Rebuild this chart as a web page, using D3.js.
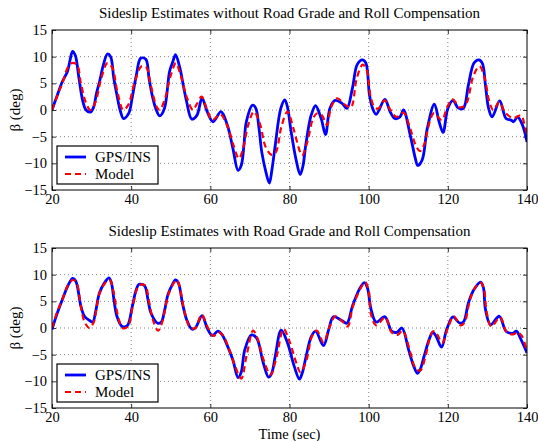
<!DOCTYPE html>
<html>
<head>
<meta charset="utf-8">
<title>Sideslip Estimates</title>
<style>
  body { margin: 0; background: #fff; }
  text { font-family: "Liberation Serif", "Times New Roman", serif; fill: #000; }
</style>
</head>
<body>
<script src="https://cdn.jsdelivr.net/npm/d3@7"></script>
<script>

// ---- data ----
var xTicks = [20, 40, 60, 80, 100, 120, 140];
var yTicks = [-15, -10, -5, 0, 5, 10, 15];
var seriesNames = ["GPS/INS", "Model"];
var titles = ["Sideslip Estimates without Road Grade and Roll Compensation",
              "Sideslip Estimates with Road Grade and Roll Compensation"];

// top panel, GPS/INS
var topGpsT = [20,21.2,22.6,23.9,24.6,25.2,25.9,26.8,27.8,28.6,29.7,30.5,31.2,32,33,34,34.8,35.6,36.4,37.2,38.1,39.4,40.3,41.3,42.4,43.7,44.5,45.3,46.2,47.2,48.4,49.7,50.5,51.2,52.3,53.2,54,55.3,56.6,57.9,59.2,60.7,62.7,64.4,65.7,67,67.8,68.5,69.1,70.7,71.5,72.3,73,74,74.9,75.6,76.4,77.8,78.8,79.5,80.3,81.6,82.7,83.4,84.1,85.5,86.6,88,89.1,90.2,91.5,93.2,94.5,95.9,97.1,98.4,99.3,100.2,101,101.9,104.1,105.4,106.6,107.9,108.8,110.5,111.8,112.4,113.5,114.8,116.6,117.8,118.8,120,121.3,122.6,123.9,125.2,126.6,127.8,128.7,129.5,130.3,131.2,133.1,134.7,136,136.6,137.6,138.5,139.3,140];
var topGpsV = [0,2.5,5.3,7.2,9.5,11,10.2,6,1.6,0,-0.4,0.5,3,5.3,8.5,10.5,10,6,2.8,0,-1.6,-0.6,2.5,6.5,9.7,9.5,6,2.8,0.3,-1.1,0.3,7.2,9,10.4,7.9,4.5,1.6,-1.7,-1,2.2,-0.3,-2.2,-0.3,-3.1,-7.2,-11.3,-10.4,-6.5,-2.2,0.9,0.3,-3.5,-7.9,-11.5,-13.7,-11,-6.6,0.3,1.9,0.5,-3.5,-9.1,-12.1,-10.5,-6.6,-0.9,0.8,-1.6,-4.6,0.3,1.8,1.3,0.3,4.1,8.5,9.4,8.8,2.8,0.3,-0.8,2,-0.3,-1.6,-1.3,0,-4.7,-9.1,-10.4,-9.4,-3.5,1.1,-2.2,-4.2,0.3,1.8,0.4,0.3,4.7,8.8,9.4,8.8,4.7,0.3,-1.3,1.7,-1.6,-1.9,-2.2,-1.3,-2.2,-3.8,-6];

// top panel, Model
var topModT = [20,21.5,22.6,24,25,26.3,27.3,28.5,29.7,31,32.3,34,35.2,36.5,38,39.3,40.8,42.6,43.8,45,46.5,47.2,48.5,50,51.3,52.5,54,55.6,56.5,57.8,59.2,60.5,62.5,64.3,65.8,67.2,68.2,69.5,71,72.5,74,75.5,76.5,78,79.5,81,82.5,83.2,84.5,86,87,88.2,89.5,90.5,92,94,95.5,97,98.5,99.5,100.5,101.5,102.5,104,105.5,107,108.8,110.5,112,113,114,115.5,116.5,118.5,119.8,121.2,123,124.5,126.5,128,129.3,130.5,131.5,133,134.5,136.5,138.5,139.3,140];
var topModV = [0,3,5,8,8.8,8.5,5,1.5,0,1.5,5.5,8.8,8,3.5,0,1,5,8.2,8,4.5,0.5,0,2,6.5,8.8,6.5,2.5,0,1,2.5,0,-1.9,-0.8,-3,-6.5,-9.1,-7.5,-3,-0.3,-2.5,-7,-8.4,-8,-3,-0.3,-3.5,-7.5,-8.5,-6,-1.5,-0.6,-1,-2.8,0.5,2.2,1,0.5,6,8.5,7.5,2.5,0.5,0.3,1.8,0,-1.3,-0.5,-3.5,-6.8,-7.7,-6.5,-2,-0.6,-1.9,0.5,2,0.5,1,6.5,8.2,6,1.5,0,1.5,-0.5,-1.5,-1,-2.5,-4.5];

// bottom panel, GPS/INS
var botGpsT = [20,21.2,22.6,24,25.2,26,27.3,28.2,29.5,30.3,31,32,33.3,34.4,35,35.7,36.4,37.7,39,40.3,41.2,42,43.4,44.2,45,46.7,47.6,48.5,49.3,50.3,51.2,51.9,53,54,55.3,56.2,57.9,59.2,60.5,61.9,63,64,65.7,67,67.8,68.7,70.4,71.7,73.4,74.7,75.5,76.4,77.9,79.5,81.2,82.5,83.2,84.2,85.5,86.6,88.6,89.9,91.1,93.2,94.5,95.9,97.6,98.9,99.7,100.6,101.9,104.1,105.8,107.1,108.4,110.1,111.4,112.3,113,114,115.4,116.2,117,118.4,119.7,121.3,123,124,125.2,126.6,128.3,129,129.5,130.8,133,134.7,136.4,137.3,138.5,140];
var botGpsV = [-0.3,2.5,5.3,7.9,9.3,8.8,4.1,2.2,1.4,1.1,3,6.6,8.5,9.4,8.5,5,2.2,0.3,0.4,4.1,7,8.2,7.9,5.5,2.8,0.9,1.1,3.5,6.3,8,9,8.5,4.5,1.6,-0.2,0,2.3,0,-1.4,-0.6,-1.3,-2.8,-6,-9.3,-8.3,-4.1,-1.3,-1.9,-6.6,-9.2,-8.5,-5.3,-0.4,-2.8,-7.2,-9.6,-8.5,-5.3,-1.6,-0.6,-3.3,-0.3,2.1,1.4,0.9,4.1,7.2,8.5,7.5,3.5,1.1,2.1,-0.6,-0.8,0,-4.1,-7.2,-8.5,-7.8,-5.3,-1.9,-0.8,-1.5,-3.6,-0.3,2.1,0.9,1.2,4.7,7.2,8.6,7.5,3.5,0.6,2.2,-0.6,-1,-0.6,-2.2,-4.7];

// bottom panel, Model
var botModT = [20,21.3,22.7,24,25.3,26.2,27.3,28.3,29.5,30.5,32,33.5,34.6,35.5,36.6,37.8,39.2,40.5,42,43.5,44.5,45.5,46.8,47.8,49.5,51.5,52.3,53.5,55,56.2,57.8,59.3,60.8,62,63.3,64.5,66.2,67.8,69.2,70.8,71.7,73.7,75.2,76.7,78.5,80,81.7,82.8,84.3,85.7,86.9,88.6,90,91.6,93.4,94.7,96,97.8,99.1,100,100.6,101.9,104.2,105.8,107.3,108.6,110.5,111.8,113,114.3,115.6,116.4,117.3,118.6,120,121.5,123.2,124.2,125.5,126.8,128.3,129.2,129.8,131,133.2,134.9,136.6,137.5,138.7,140];
var botModV = [0,3,5.5,8,9,8.5,4,1,0,1,6.5,8.5,9,7,2.5,0,0.3,4.5,8,8,5,1.5,-0.5,1,6.5,9,7.5,3,0,0,2.5,0.2,-1.5,-0.8,-1.5,-3.5,-7,-9.5,-5,-0.5,-1.5,-6.5,-8.8,-5.5,-0.2,-2.5,-6.5,-8.3,-6,-1.5,-0.5,-2.7,0,2.2,1.2,0.3,4,7.2,8.6,7,2.5,0.5,2,-0.8,-1.3,-0.5,-4.5,-7.5,-8,-5.5,-1.5,-0.6,-1.2,-2.8,0,2.2,0.5,1,5,7.5,8.5,7,3,0.3,2,-0.8,-1.2,-0.8,-1.5,-4.5];

var panels = [
  { title: titles[0], gpsT: topGpsT, gpsV: topGpsV, modT: topModT, modV: topModV, top: 30, xlabel: false },
  { title: titles[1], gpsT: botGpsT, gpsV: botGpsV, modT: botModT, modV: botModV, top: 248, xlabel: true }
];

// ---- layout ----
var W = 538, H = 441;
var left = 52, right = 527, ph = 160;

var svg = d3.select("body").append("svg")
  .attr("width", W)
  .attr("height", H);

var x = d3.scaleLinear().domain([20, 140]).range([left, right]);

panels.forEach(function(p) {
  var y = d3.scaleLinear().domain([-15, 15]).range([p.top + ph, p.top]);
  var g = svg.append("g");

  // dotted grid
  g.selectAll("line.gx").data(xTicks.slice(1, -1)).enter().append("line")
    .attr("x1", function(d){ return x(d); }).attr("x2", function(d){ return x(d); })
    .attr("y1", p.top).attr("y2", p.top + ph)
    .attr("stroke", "#666").attr("stroke-width", 0.8).attr("stroke-dasharray", "1,3");
  g.selectAll("line.gy").data(yTicks.slice(1, -1)).enter().append("line")
    .attr("x1", left).attr("x2", right)
    .attr("y1", function(d){ return y(d); }).attr("y2", function(d){ return y(d); })
    .attr("stroke", "#666").attr("stroke-width", 0.8).attr("stroke-dasharray", "1,3");

  // axes, ticks pointing inward
  var xb = g.append("g").attr("transform", "translate(0," + (p.top + ph) + ")")
    .call(d3.axisBottom(x).tickValues(xTicks).tickSize(-4).tickPadding(4));
  var xt = g.append("g").attr("transform", "translate(0," + p.top + ")")
    .call(d3.axisTop(x).tickValues(xTicks).tickSize(-4).tickFormat(""));
  var yl = g.append("g").attr("transform", "translate(" + left + ",0)")
    .call(d3.axisLeft(y).tickValues(yTicks).tickSize(-4).tickPadding(5)
      .tickFormat(function(d){ return d < 0 ? "\u2212" + Math.abs(d) : d; }));
  var yr = g.append("g").attr("transform", "translate(" + right + ",0)")
    .call(d3.axisRight(y).tickValues(yTicks).tickSize(-4).tickFormat(""));
  [xb, xt, yl, yr].forEach(function(a) {
    a.select(".domain").remove();
    a.selectAll("line").attr("stroke", "#000").attr("stroke-width", 0.8);
    a.selectAll("text").style("font-family", "Liberation Serif, serif").style("font-size", "14.5px").attr("fill", "#000");
  });

  var clipId = "clip" + p.top;
  svg.append("clipPath").attr("id", clipId).append("rect")
    .attr("x", left).attr("y", p.top).attr("width", right - left).attr("height", ph);

  var line = d3.line()
    .x(function(d){ return x(d[0]); })
    .y(function(d){ return y(d[1]); })
    .curve(d3.curveCatmullRom.alpha(0.5));

  var plot = g.append("g").attr("clip-path", "url(#" + clipId + ")");
  plot.append("path")
    .datum(d3.zip(p.gpsT, p.gpsV))
    .attr("d", line)
    .attr("fill", "none").attr("stroke", "#0000ff").attr("stroke-width", 2.8)
    .attr("stroke-linejoin", "round");
  plot.append("path")
    .datum(d3.zip(p.modT, p.modV))
    .attr("d", line)
    .attr("fill", "none").attr("stroke", "#ff0000").attr("stroke-width", 2.2)
    .attr("stroke-dasharray", "6,4");

  // box
  g.append("rect")
    .attr("x", left).attr("y", p.top).attr("width", right - left).attr("height", ph)
    .attr("fill", "none").attr("stroke", "#000").attr("stroke-width", 1);

  // title
  g.append("text")
    .attr("x", (left + right) / 2).attr("y", p.top - 12)
    .attr("text-anchor", "middle")
    .style("font-size", "15px")
    .text(p.title);

  // y label
  g.append("text")
    .attr("transform", "translate(20," + (p.top + ph / 2) + ") rotate(-90)")
    .attr("text-anchor", "middle")
    .style("font-size", "15px")
    .text("\u03b2 (deg)");

  if (p.xlabel) {
    g.append("text")
      .attr("x", (left + right) / 2).attr("y", 439)
      .attr("text-anchor", "middle")
      .style("font-size", "14.5px")
      .text("Time (sec)");
  }

  // legend
  var lx = 57, ly = p.top + ph - 44;
  var lg = g.append("g").attr("transform", "translate(" + lx + "," + ly + ")");
  lg.append("rect").attr("width", 101).attr("height", 38)
    .attr("fill", "#fff").attr("stroke", "#000").attr("stroke-width", 1.2);
  var rows = lg.selectAll("g.row").data(seriesNames).enter().append("g")
    .attr("transform", function(d, i){ return "translate(0," + (11 + i * 17) + ")"; });
  rows.append("line")
    .attr("x1", 8).attr("x2", 29).attr("y1", 0).attr("y2", 0)
    .attr("stroke", function(d, i){ return i === 0 ? "#0000ff" : "#ff0000"; })
    .attr("stroke-width", function(d, i){ return i === 0 ? 2.8 : 2.2; })
    .attr("stroke-dasharray", function(d, i){ return i === 0 ? null : "6,4"; });
  rows.append("text")
    .attr("x", 38).attr("y", 0).attr("dy", "0.35em")
    .style("font-size", "15px")
    .text(function(d){ return d; });
});

</script>
</body>
</html>
